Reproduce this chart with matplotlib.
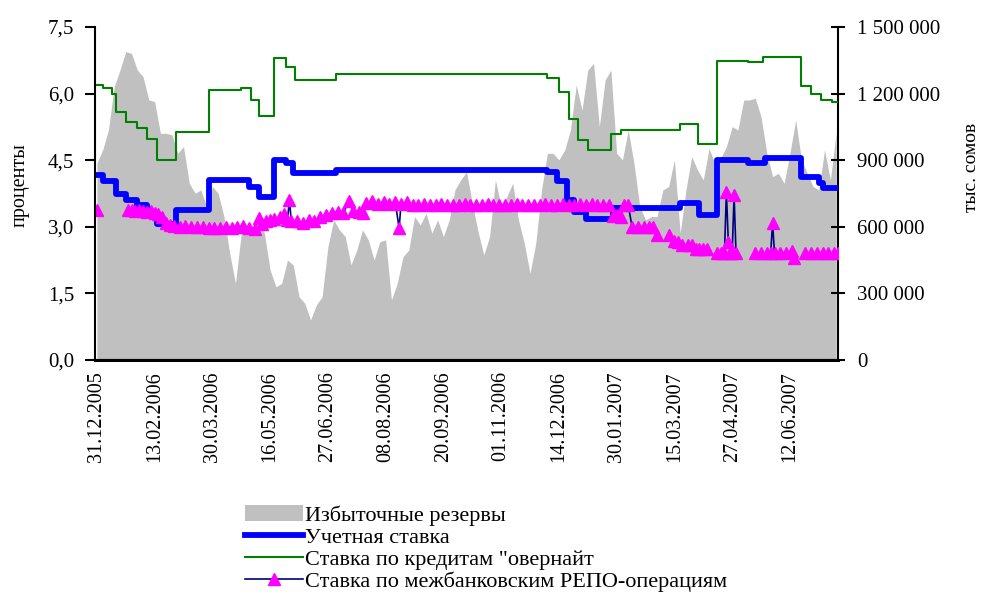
import numpy as np
import matplotlib
matplotlib.use('Agg')
import matplotlib.pyplot as plt
from matplotlib.patches import Patch
from matplotlib.lines import Line2D

plt.rcParams['font.family'] = ['Liberation Serif', 'DejaVu Serif']

nan = np.nan

# x axis = working days from 31.12.2005, one label every 30 days
tick_days = list(range(0, 361, 30))
tick_dates = ['31.12.2005', '13.02.2006', '30.03.2006', '16.05.2006',
              '27.06.2006', '08.08.2006', '20.09.2006', '01.11.2006',
              '14.12.2006', '30.01.2007', '15.03.2007', '27.04.2007',
              '12.06.2007']

# excess reserves, thousand soms, read every 3rd working day
res_step = 3
reserves = [886, 946, 1036, 1231, 1306, 1389, 1381, 1306, 1276, 1171,
            1164, 1021, 1021, 1014, 931, 961, 796, 751, 766, 691,
            781, 751, 646, 480, 345, 571, 601, 586, 661, 571,
            405, 330, 345, 450, 428, 285, 255, 180, 248, 285,
            510, 631, 586, 556, 428, 495, 586, 541, 450, 533,
            541, 270, 345, 465, 495, 646, 608, 661, 571, 631,
            556, 631, 766, 811, 848, 706, 578, 473, 556, 811,
            691, 736, 796, 631, 526, 390, 526, 766, 931, 931,
            901, 946, 1036, 1239, 1126, 1306, 1336, 1051, 1261, 1306,
            931, 901, 1036, 886, 691, 631, 646, 646, 766, 781,
            901, 571, 766, 916, 856, 811, 953, 886, 908, 961,
            1051, 1036, 1171, 1171, 1179, 1096, 931, 826, 841, 796,
            931, 1081, 901, 841, 781, 766, 946, 811, 1021]

# discount rate: day it changed, new value
disc_day = [0, 3, 10, 15, 21, 26, 31, 41, 58, 79, 84, 92, 98, 102, 124,
            234, 239, 244, 248, 254, 268, 303, 313, 322, 338, 347, 366,
            375, 377, 385]
disc_rate = [4.16, 4.02, 3.73, 3.60, 3.50, 3.30, 3.07, 3.38, 4.06, 3.90,
             3.67, 4.50, 4.43, 4.20, 4.28, 4.24, 4.02, 3.60, 3.34, 3.17,
             3.42, 3.53, 3.27, 4.50, 4.44, 4.56, 4.11, 3.98, 3.88, 3.88]

# overnight credit rate
on_day = [0, 3, 8, 10, 15, 21, 26, 31, 41, 58, 75, 80, 84, 92, 98, 103,
          124, 234, 240, 245, 250, 255, 267, 272, 303, 312, 322, 338, 346,
          366, 371, 376, 382, 385]
on_rate = [6.19, 6.12, 5.99, 5.59, 5.35, 5.23, 4.97, 4.50, 5.13, 6.07,
           6.12, 5.86, 5.50, 6.79, 6.60, 6.31, 6.44, 6.34, 6.04, 5.42,
           4.95, 4.73, 5.08, 5.18, 5.31, 4.86, 6.74, 6.70, 6.83, 6.16,
           5.99, 5.86, 5.81, 5.81]

# interbank REPO rate (nan = no deals)
repo_day = [0, 1,
            16, 18, 20, 22, 24, 26, 28, 30, 32, 34, 36, 38, 40, 43, 46,
            49, 52, 55, 58, 61, 64, 67, 70, 73, 76, 79, 82, 84, 86, 88,
            90, 92, 95, 97, 99, 100, 101, 104, 107, 110, 113, 116, 119,
            122, 125, 128, 131, 133, 136, 138, 140, 143, 146, 149, 152,
            155, 157, 158, 161, 164, 167, 170, 173, 176, 179, 182, 185,
            188, 191, 194, 197, 200, 203, 206, 209, 212, 215, 218, 221,
            224, 227, 230, 233, 236, 239, 242, 245, 248, 251, 254, 257,
            260, 263, 266, 268, 270, 272, 274, 276, 278, 281, 284, 287,
            289, 291, 292,
            297, 300, 302, 304, 307, 309, 311, 313, 315, 317, 318,
            322, 324, 326, 327, 328, 329, 330, 331, 332, 333,
            342, 345, 348, 350, 351, 352, 355, 358, 361, 362, 363,
            368, 371, 374, 377, 380, 383, 385]
repo_rate = [3.38, nan,
             3.38, 3.38, 3.35, 3.38, 3.36, 3.33, 3.36, 3.30, 3.28, 3.22,
             3.08, 3.05, 3.02, 3.00, 3.02, 3.00, 2.99, 3.00, 2.98, 2.97,
             2.98, 3.00, 2.98, 3.00, 3.02, 2.98, 2.96, 3.20, 3.06, 3.12,
             3.16, 3.18, 3.22, 3.28, 3.15, 3.60, 3.13, 3.12, 3.08, 3.15,
             3.12, 3.22, 3.26, 3.30, 3.34, 3.32, 3.57, 3.36, 3.34, 3.30,
             3.53, 3.58, 3.52, 3.56, 3.52, 3.55, 2.97, 3.52, 3.55, 3.49,
             3.49, 3.51, 3.49, 3.49, 3.52, 3.49, 3.49, 3.49, 3.51, 3.49,
             3.49, 3.49, 3.52, 3.49, 3.49, 3.49, 3.49, 3.51, 3.49, 3.49,
             3.49, 3.49, 3.51, 3.49, 3.49, 3.52, 3.49, 3.49, 3.51, 3.49,
             3.52, 3.49, 3.49, 3.49, 3.24, 3.27, 3.22, 3.49, 3.49, 3.00,
             3.00, 3.00, 3.00, 3.00, 2.82, nan,
             2.82, 2.68, 2.66, 2.59, 2.59, 2.59, 2.49, 2.49, 2.49, 2.49, nan,
             2.40, 2.40, 2.40, 3.79, 2.66, 2.40, 2.40, 3.72, 2.40, nan,
             2.40, 2.40, 2.40, 2.40, 3.08, 2.40, 2.40, 2.42, 2.45, 2.29, nan,
             2.40, 2.40, 2.40, 2.40, 2.40, 2.40, 2.40]

left_ticks = [0, 1.5, 3.0, 4.5, 6.0, 7.5]
left_labels = ['0,0', '1,5', '3,0', '4,5', '6,0', '7,5']
right_ticks = [0, 300000, 600000, 900000, 1200000, 1500000]
right_labels = ['0', '300 000', '600 000', '900 000', '1 200 000', '1 500 000']

c_res = '#c0c0c0'
c_disc = '#0000ff'
c_on = '#008000'
c_repo_line = '#000080'
c_repo_mark = '#ff00ff'

fig = plt.figure(figsize=(9.82, 5.94), dpi=100)
ax = fig.add_axes([0.0967, 0.394, 0.7567, 0.5606])
ax2 = ax.twinx()

res_x = np.arange(len(reserves)) * res_step
ax2.fill_between(res_x, np.array(reserves) * 1000, color=c_res, lw=0)
ax2.set_ylim(0, 1500000)

# lines on top of the area
ax.set_zorder(ax2.get_zorder() + 1)
ax.patch.set_visible(False)

ax.step(disc_day, disc_rate, where='post', color=c_disc, lw=4.2)
ax.step(on_day, on_rate, where='post', color=c_on, lw=1.5)
ax.plot(repo_day, repo_rate, color=c_repo_line, lw=1.2, marker='^', ms=8,
        mfc=c_repo_mark, mec=c_repo_mark)

ax.set_xlim(-1, 385)
ax.set_ylim(0, 7.5)

ax.set_yticks(left_ticks, left_labels)
ax2.set_yticks(right_ticks, right_labels)
ax.set_xticks(tick_days, tick_dates, rotation=90)

ax.tick_params(axis='y', direction='out', length=7, width=1.5,
               labelsize=15, pad=8)
ax2.tick_params(axis='y', direction='inout', length=10, width=1.5,
                labelsize=15, pad=9)
ax.tick_params(axis='x', length=0, labelsize=14.5, pad=8)

for a in (ax, ax2):
    a.spines['top'].set_visible(False)
    for s in ('left', 'right', 'bottom'):
        a.spines[s].set_linewidth(1.5)
ax.spines['right'].set_visible(False)
ax2.spines['left'].set_visible(False)
ax2.spines['bottom'].set_linewidth(2.2)

fig.text(20 / 982, 1 - 185 / 594, 'проценты', rotation=90,
         ha='center', va='center', fontsize=14.5)
fig.text(971 / 982, 1 - 167 / 594, 'тыс. сомов', rotation=90,
         ha='center', va='center', fontsize=14)

handles = [Patch(fc=c_res, ec='none'),
           Line2D([], [], color=c_disc, lw=4.2),
           Line2D([], [], color=c_on, lw=1.5),
           Line2D([], [], color=c_repo_line, lw=1.2, marker='^', ms=8,
                  mfc=c_repo_mark, mec=c_repo_mark)]
labels = ['Избыточные резервы', 'Учетная ставка',
          'Ставка по кредитам "овернайт',
          'Ставка по межбанковским РЕПО-операциям']
fig.legend(handles, labels, loc='upper left',
           bbox_to_anchor=(245 / 982, 1 - 505 / 594), frameon=False,
           fontsize=16, handlelength=2.6, handletextpad=0.1,
           labelspacing=0.07, borderpad=0, borderaxespad=0, numpoints=1)

fig.savefig('out.png', dpi=100)
